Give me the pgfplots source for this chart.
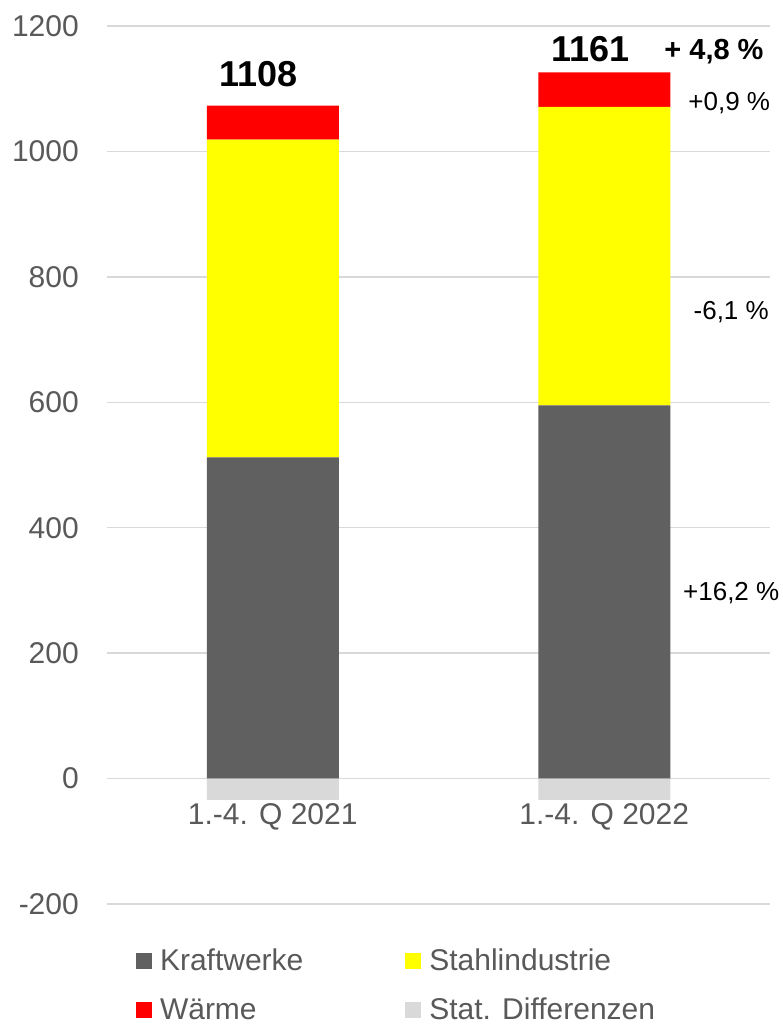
\documentclass[border=0pt]{standalone}
\usepackage{pgfplots}
\pgfplotsset{compat=1.18}
\usepackage{fontspec}
\setmainfont{Liberation Sans}
\definecolor{kraft}{HTML}{606060}
\definecolor{stahl}{HTML}{FFFF00}
\definecolor{waerme}{HTML}{FF0000}
\definecolor{statd}{HTML}{D9D9D9}
\definecolor{gridc}{HTML}{D9D9D9}
\definecolor{txtgray}{HTML}{595959}
\begin{document}
\begin{tikzpicture}
\useasboundingbox (0,0) rectangle (783pt,1025pt);
\begin{axis}[
  at={(107pt,121pt)}, anchor=south west,
  width=663pt, height=878pt, scale only axis,
  xmin=-0.5, xmax=1.5, ymin=-200, ymax=1200,
  ybar stacked, bar width=132pt,
  axis line style={draw=none},
  major tick length=0pt,
  xtick={0,1}, xticklabels={1.-4. Q 2021, 1.-4. Q 2022},
  ytick={-200,0,200,400,600,800,1000,1200},
  yticklabels={-200,0,200,400,600,800,1000,1200},
  ymajorgrids, grid style={gridc, line width=1.5pt},
  tick label style={font=\fontsize{30}{36}\selectfont, text=txtgray},
  yticklabel style={anchor=east, inner sep=0pt, xshift=-28pt},
  xticklabel style={anchor=base, yshift=79pt},
  clip=false,
  legend columns=2,
  legend cell align=left,
  legend style={at={(axis description cs:0,0)}, anchor=north west,
    xshift=29pt, yshift=-45pt, draw=none, fill=none,
    inner sep=0pt, outer sep=0pt,
    font=\fontsize{30}{36}\selectfont, text=txtgray,
    column sep=8pt, row sep=26pt,
    nodes={inner sep=0pt},
    /tikz/every even column/.append style={column sep=102pt}},
  legend image code/.code={\fill[#1] (0pt,-8pt) rectangle (16pt,8pt);},
]
\addplot[fill=kraft, draw=none, forget plot] coordinates {(0,512) (1,595)};
\addplot[fill=stahl, draw=none, forget plot] coordinates {(0,507) (1,476)};
\addplot[fill=waerme, draw=none, forget plot] coordinates {(0,54) (1,55)};
\addlegendimage{fill=kraft, draw=none}
\addlegendentry{Kraftwerke}
\addlegendimage{fill=stahl, draw=none}
\addlegendentry{Stahlindustrie}
\addlegendimage{fill=waerme, draw=none}
\addlegendentry{Wärme}
\addlegendimage{fill=statd, draw=none}
\addlegendentry{Stat. Differenzen}
\node[font=\bfseries\fontsize{36}{40}\selectfont] at (axis cs:-0.042,1124) {1108};
\node[font=\bfseries\fontsize{36}{40}\selectfont] at (axis cs:0.958,1163) {1161};
\node[font=\bfseries\fontsize{29}{34}\selectfont] at (axis cs:1.331,1159) {+ 4,8 \%};
\node[font=\fontsize{26}{30}\selectfont] at (axis cs:1.377,1077) {+0,9 \%};
\node[font=\fontsize{26}{30}\selectfont] at (axis cs:1.383,744) {-6,1 \%};
\node[font=\fontsize{26}{30}\selectfont] at (axis cs:1.383,296) {+16,2 \%};
\end{axis}
\begin{axis}[
  at={(107pt,121pt)}, anchor=south west,
  width=663pt, height=878pt, scale only axis,
  xmin=-0.5, xmax=1.5, ymin=-200, ymax=1200,
  ybar, bar width=132pt, bar shift=0pt,
  hide axis,
]
\addplot[fill=statd, draw=none] coordinates {(0,-34) (1,-34)};
\end{axis}
\end{tikzpicture}
\end{document}
